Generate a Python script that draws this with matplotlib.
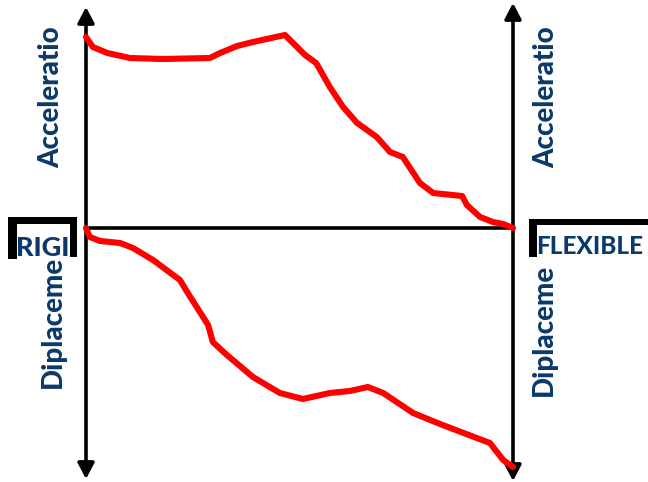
import matplotlib
matplotlib.use("Agg")
import matplotlib.pyplot as plt
from matplotlib.patches import FancyArrowPatch, Rectangle

# ---- data (x: 0 = rigid axis, 100 = flexible axis) ----
accel_x = [0, 1.6, 5.0, 10.3, 18.0, 29.0, 31.4, 35.4, 39.1, 46.6, 51.3, 53.9, 57.1,
           60.2, 63.5, 68.1, 71.2, 74.2, 78.2, 81.3, 88.1, 89.2, 92.3, 95.3, 97.7, 100]
accel_y = [95.5, 90.5, 87.5, 85, 84.5, 85, 87.5, 91, 93, 96.5, 86.5, 82.5, 70.5,
           60.5, 52.5, 45.5, 38, 35.5, 22.5, 17.5, 16, 11.5, 5.5, 3, 2, 0]
disp_x = [0, 0.9, 3.3, 8.0, 11.0, 15.7, 22.0, 23.7, 28.6, 29.7, 33.0, 39.1, 45.4,
          50.8, 57.1, 61.8, 66.0, 69.6, 76.6, 82.9, 94.6, 97.7, 100]
disp_y = [0, -4.5, -6.5, -7.5, -10, -16, -26, -32, -48.5, -57, -63.5, -74.5, -82.5,
          -85.5, -82.5, -81.5, -79.5, -82.5, -92.5, -98, -107.5, -116, -119.5]
left_label = "RIGI"
right_label = "FLEXIBLE"
top_axis_label = "Acceleratio"
bottom_axis_label = "Diplaceme"

W, H = 648, 482
fig = plt.figure(figsize=(W / 100, H / 100), dpi=100)
ax = fig.add_axes([0, 0, 1, 1])
# layout mapping: x 0 -> 86 px, 100 -> 513 px ; y 0 -> 228 px, 1 unit = 2 px
sx = (513 - 86) / 100.0
ax.set_xlim(-86 / sx, (W - 86) / sx)
ax.set_ylim(-(H - 228) / 2.0, 228 / 2.0)
ax.axis("off")

ov = fig.add_axes([0, 0, 1, 1])
ov.set_xlim(0, W)
ov.set_ylim(H, 0)
ov.axis("off")
ov.patch.set_alpha(0)

red = "#FF0000"
ax.plot(accel_x, accel_y, color=red, lw=4.4, solid_joinstyle="round",
        solid_capstyle="round", zorder=3)
ax.plot(disp_x, disp_y, color=red, lw=4.4, solid_joinstyle="round",
        solid_capstyle="round", zorder=3)

# axes lines
lw_ax = 2.6
ax.plot([0, 100.5], [0, 0], color="black", lw=lw_ax, zorder=2, solid_capstyle="butt")
arrow_style = "-|>,head_length=9.5,head_width=5"
for xx, y0, y1 in [(0, 0, 110.5), (0, 0, -125.5), (100, 0, 112.5), (100, 0, -126.5)]:
    a = FancyArrowPatch((xx, y0), (xx, y1), arrowstyle=arrow_style, mutation_scale=1,
                        color="black", lw=lw_ax, shrinkA=0, shrinkB=0, zorder=2)
    ax.add_patch(a)

navy = "#0B3A6A"
fam = ["Lato", "DejaVu Sans"]
wt = "black"
ov.text(51, 97, top_axis_label, rotation=90, ha="center", va="center",
        fontsize=20, fontweight=wt, color=navy, family=fam)
ov.text(546, 97, top_axis_label, rotation=90, ha="center", va="center",
        fontsize=20, fontweight=wt, color=navy, family=fam)
ov.text(53, 322, bottom_axis_label, rotation=90, ha="center", va="center",
        fontsize=20, fontweight=wt, color=navy, family=fam)
ov.text(544, 330, bottom_axis_label, rotation=90, ha="center", va="center",
        fontsize=20, fontweight=wt, color=navy, family=fam)

# label boxes (bracket style)
def bracket(x0, x1, ytop, ybot_l, ybot_r, tl=7, sl=9, sr=7):
    ov.add_patch(Rectangle((x0, ytop), x1 - x0, tl, color="black", lw=0, zorder=4))
    ov.add_patch(Rectangle((x0, ytop), sl, ybot_l - ytop, color="black", lw=0, zorder=4))
    if sr:
        ov.add_patch(Rectangle((x1 - sr, ytop), sr, ybot_r - ytop, color="black", lw=0, zorder=4))

bracket(8, 77, 217, 259, 257)
ov.text(43, 248, left_label, ha="center", va="center", fontsize=19.5,
        fontweight=wt, color=navy, family=fam, zorder=5)
bracket(529, 648, 219, 257, 257, tl=6, sl=8, sr=0)
ov.text(590, 247, right_label, ha="center", va="center", fontsize=17.5,
        fontweight=wt, color=navy, family=fam, zorder=5)

fig.savefig("out.png", dpi=100)
